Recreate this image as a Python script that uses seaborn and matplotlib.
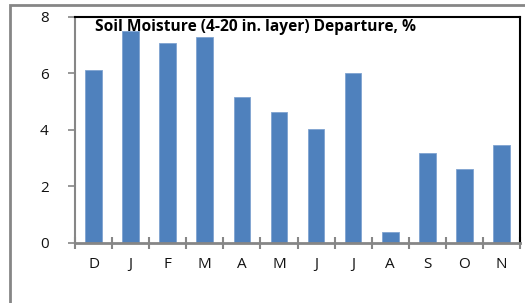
import matplotlib
matplotlib.use("Agg")
import matplotlib.pyplot as plt
import seaborn as sns
import pandas as pd
import numpy as np
from matplotlib.patches import Rectangle

months = ["Dec", "Jan", "Feb", "Mar", "Apr", "May", "Jun", "Jul", "Aug", "Sep", "Oct", "Nov"]
labels = ["D", "J", "F", "M", "A", "M", "J", "J", "A", "S", "O", "N"]
values = [6.1, 7.48, 7.05, 7.28, 5.15, 4.62, 4.02, 5.99, 0.39, 3.18, 2.61, 3.45]
title = "Soil Moisture (4-20 in. layer) Departure, %"

sns.set_style("white")
plt.rcParams['font.family'] = ['Open Sans', 'DejaVu Sans']

df = pd.DataFrame({"month": months, "value": values})

fig = plt.figure(figsize=(5.25, 3.03), dpi=100)
ax = fig.add_axes([75/525, 1-243/303, (520-75)/525, (243-16.5)/303])

sns.barplot(data=df, x="month", y="value", order=months, color="#4F81BD",
            saturation=1, width=0.45, ax=ax, edgecolor="#7FA3D0", linewidth=0.6)

ax.set_xlim(-0.5, len(months) - 0.5)
ax.set_ylim(0, 8)
ax.set_yticks([0, 2, 4, 6, 8])
ax.set_yticklabels(["0", "2", "4", "6", "8"], fontsize=11, color="#111111")
ax.set_xticks(range(len(months)))
ax.set_xticklabels(labels, fontsize=11, color="#111111")
ax.set_xticks(np.arange(-0.5, len(months), 1.0), minor=True)
ax.tick_params(axis="x", which="both", bottom=True)
ax.tick_params(axis="x", which="major", length=0, pad=10)
ax.tick_params(axis="x", which="minor", direction="inout", length=9, width=1.5, color="#868686")
ax.tick_params(axis="y", which="major", left=True, direction="out", length=5, width=1.2,
               color="#868686", pad=14)
ax.set_xlabel("")
ax.set_ylabel("")

ax.spines["left"].set_color("#868686")
ax.spines["left"].set_linewidth(1.5)
ax.spines["bottom"].set_color("#868686")
ax.spines["bottom"].set_linewidth(2)
for s in ["top", "right"]:
    ax.spines[s].set_color("black")
    ax.spines[s].set_linewidth(1.5)
    ax.spines[s].set_visible(True)

ax.text(0.045, 0.955, title, transform=ax.transAxes, fontsize=11.2, fontweight="bold",
        ha="left", va="center", color="black")

fig.patches.append(Rectangle((10/525, -0.1), 1.2, 1 - 5/303 + 0.1, transform=fig.transFigure,
                             fill=False, edgecolor="#868686", linewidth=2, zorder=-1))

fig.savefig("out.png", dpi=100)
